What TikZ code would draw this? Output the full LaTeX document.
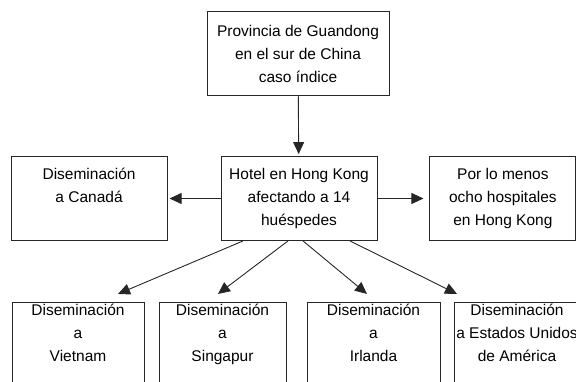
\documentclass[tikz,border=0pt]{standalone}
\usepackage{fontspec}
\setmainfont{Liberation Sans}
\usetikzlibrary{positioning, arrows.meta}

\begin{document}
\begin{tikzpicture}[
  font=\fontsize{15.5pt}{23pt}\selectfont,
  node distance=60pt,
  >={Triangle[length=12pt, width=11pt]}
]
% -------------------- Styles --------------------
\tikzset{
  block/.style={
    draw=black!85, line width=0.9pt,
    align=center, inner sep=2pt,
    minimum width=156pt, minimum height=84pt
  },
  lowblock/.style={
    block, minimum width=132pt, minimum height=0pt,
    inner ysep=2pt, text depth=80pt
  },
  arrow/.style={->, line width=0.9pt, draw=black!85}
}
\useasboundingbox (0,0) rectangle (576pt,381pt);

% -------------------- Middle row --------------------
\node[block] (hotel) at (299pt,182.5pt) {
  Hotel en Hong Kong\\
  afectando a 14\\
  huéspedes
};

\node[block, minimum width=182pt, above=60pt of hotel, xshift=-1pt] (guandong) {
  Provincia de Guandong\\
  en el sur de China\\
  caso índice
};

\node[block, left=53pt of hotel] (canada) {
  Diseminación\\
  a Canadá\\
  \vphantom{g}
};

\node[block, minimum width=146pt, right=52pt of hotel] (hospitales) {
  Por lo menos\\
  ocho hospitales\\
  en Hong Kong
};

% -------------------- Bottom row --------------------
\node[lowblock, below=61pt of hotel, xshift=-221pt] (vietnam) {
  Diseminación\\ a\\ Vietnam
};
\node[lowblock, minimum width=127pt, below=61pt of hotel, xshift=-76.5pt] (singapur) {
  Diseminación\\ a\\ Singapur
};
\node[lowblock, minimum width=133pt, below=61pt of hotel, xshift=74.5pt] (irlanda) {
  Diseminación\\ a\\ Irlanda
};
\node[lowblock, minimum width=126pt, below=61pt of hotel, xshift=218pt] (eeuu) {
  Diseminación\\ a Estados Unidos\\ de América
};

% -------------------- Connectors --------------------
\draw[arrow, shorten >=2pt] (guandong) -- (hotel);
\draw[arrow, shorten >=2pt] (hotel) -- (canada);
\draw[arrow, shorten >=6pt] (hotel) -- (hospitales);

\draw[arrow] ([xshift=-56pt]hotel.south) -- ([xshift=40pt, yshift=8pt]vietnam.north);
\draw[arrow] ([xshift=-11pt]hotel.south) -- ([xshift=-4.5pt, yshift=8pt]singapur.north);
\draw[arrow] ([xshift=4pt]hotel.south) -- ([xshift=-6.5pt, yshift=8pt]irlanda.north);
\draw[arrow] ([xshift=51pt]hotel.south) -- ([xshift=-60pt, yshift=8pt]eeuu.north);

\end{tikzpicture}
\end{document}
